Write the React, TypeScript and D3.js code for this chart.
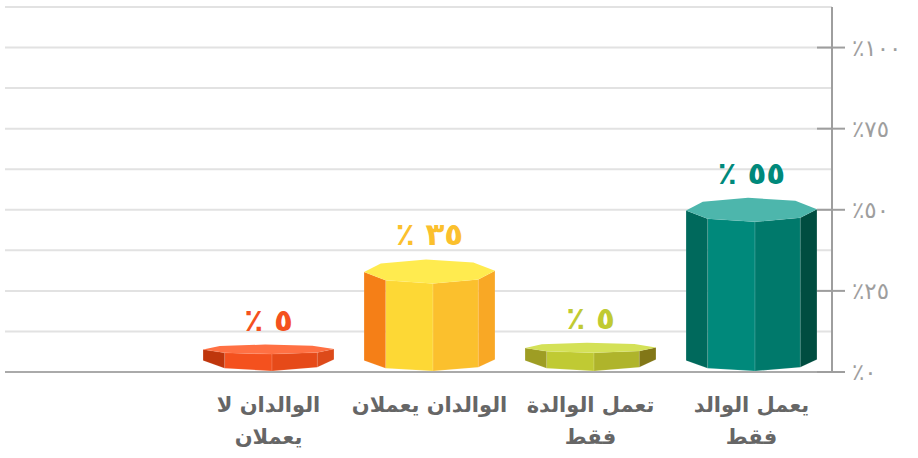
import React from "react";
import * as d3 from "d3";

// ---- data ----
const categories = ["يعمل الوالد فقط", "تعمل الوالدة فقط", "الوالدان يعملان", "الوالدان لا يعملان"];
const categoryLines = [["يعمل الوالد", "فقط"], ["تعمل الوالدة", "فقط"], ["الوالدان يعملان"], ["الوالدان لا", "يعملان"]];
const values = [55, 5, 35, 5]; // printed labels (%)
const barLevels = [50, 7.5, 31, 7]; // heights as drawn against the axis (%)
const yTicks = [0, 25, 50, 75, 100];
const gridLevels = [0, 12.5, 25, 37.5, 50, 62.5, 75, 87.5, 100, 112.5];

const palettes = [
  { top: "#4db6ac", left: "#00695c", fl: "#00897b", fr: "#00796b", right: "#004d40", label: "#00897b" },
  { top: "#d4e157", left: "#9e9d24", fl: "#c0ca33", fr: "#afb42b", right: "#827717", label: "#c0ca33" },
  { top: "#ffeb4f", left: "#f57f17", fl: "#fdd835", fr: "#fbc02d", right: "#f9a825", label: "#fbc02d" },
  { top: "#ff7043", left: "#bf360c", fl: "#f4511e", fr: "#e64a19", right: "#dd4a1a", label: "#f4511e" },
];

const W = 918;
const H = 458;
const axisX = 832;
const plotLeft = 5;
const baseY = 372;
const topY = 7;

const arabicDigits = (n: number) =>
  String(n).replace(/[0-9]/g, (d) => "٠١٢٣٤٥٦٧٨٩"[+d]);

export default function App() {
  const y = d3.scaleLinear().domain([0, 112.5]).range([baseY, topY]);
  const x = d3
    .scaleBand<string>()
    .domain([...categories].reverse())
    .range([188, axisX])
    .paddingInner(0.186)
    .paddingOuter(0.093);

  const botC = 360;
  const ryBot = 11;
  const rot = (-3 * Math.PI) / 180;
  const font = "'DejaVu Sans', sans-serif";

  return (
    <svg width={W} height={H} style={{ position: "absolute", left: 0, top: 0 }} fontFamily={font}>
      <rect width={W} height={H} fill="#fff" />
      {gridLevels.map((g) => (
        <line
          key={g}
          x1={plotLeft}
          x2={axisX}
          y1={y(g)}
          y2={y(g)}
          stroke={g === 0 ? "#aaaaaa" : "#e2e2e2"}
          strokeWidth={2}
        />
      ))}
      <line x1={axisX} x2={axisX} y1={topY} y2={baseY} stroke="#9e9e9e" strokeWidth={2} />
      {yTicks.map((t) => (
        <g key={t}>
          <line x1={817} x2={845} y1={y(t)} y2={y(t)} stroke="#9e9e9e" strokeWidth={2} />
          <text x={852} y={y(t)} dy="0.35em" fontSize={23} fill="#9e9e9e">
            {"٪" + arabicDigits(t)}
          </text>
        </g>
      ))}
      {categories.map((c, i) => {
        const bw = x.bandwidth();
        const cx = (x(c) as number) + bw / 2;
        const hw = bw / 2;
        const tc = y(barLevels[i]);
        const h = botC - tc;
        const ryTop = Math.min(12, 3.5 + 0.12 * h);
        const ang = (k: number) => (k * Math.PI) / 4 + rot;
        const tp = (k: number): [number, number] => [cx + hw * Math.cos(ang(k)), tc + ryTop * Math.sin(ang(k))];
        const bp = (k: number): [number, number] => [cx + hw * Math.cos(ang(k)), botC + ryBot * Math.sin(ang(k))];
        const face = (k: number) => {
          const pts = [tp(k), tp(k + 1), bp(k + 1), bp(k)];
          return pts.map((p) => p.join(",")).join(" ");
        };
        const p = palettes[i];
        const faceColors = [p.right, p.fr, p.fl, p.left];
        const topPts = d3.range(8).map((k) => tp(k).join(",")).join(" ");
        const labelY = tc - ryTop - 14;
        return (
          <g key={c}>
            {faceColors.map((col, k) => (
              <polygon key={k} points={face(k)} fill={col} stroke="rgba(255,255,255,0.18)" strokeWidth={0.6} />
            ))}
            <polygon points={topPts} fill={p.top} />
            <text x={cx} y={labelY} textAnchor="middle" fontSize={31} fontWeight="bold" fill={p.label}>
              {"٪ " + arabicDigits(values[i])}
            </text>
            {categoryLines[i].map((ln, j) => (
              <text key={j} x={cx} y={412 + j * 32} textAnchor="middle" fontSize={21} fontWeight="bold" fill="#666666">
                {ln}
              </text>
            ))}
          </g>
        );
      })}
    </svg>
  );
}
